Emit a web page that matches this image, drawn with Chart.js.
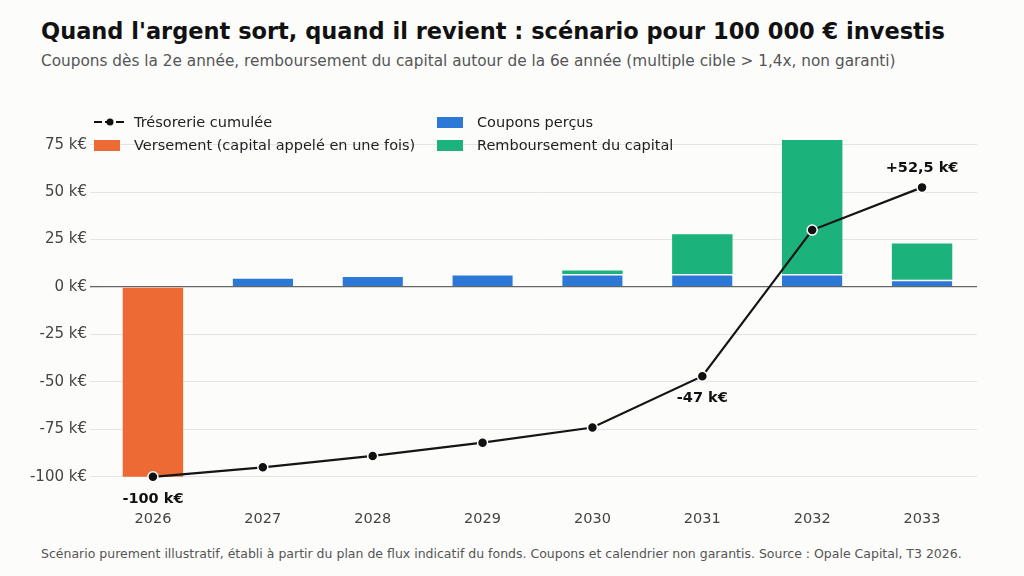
<!DOCTYPE html>
<html><head><meta charset="utf-8">
<script src="https://cdn.jsdelivr.net/npm/chart.js@4"></script>
<style>
body{margin:0;background:#fcfcfb;font-family:"DejaVu Sans",sans-serif;width:1024px;height:576px;overflow:hidden;position:relative}
h1{position:absolute;left:41px;top:18px;margin:0;font-size:22.5px;font-weight:bold;color:#111}
.sub{position:absolute;left:41px;top:52px;font-size:15.3px;color:#555}
.foot{position:absolute;left:41px;top:546px;font-size:12.5px;color:#555}
#wrap{position:absolute;left:0;top:100px;width:1010px;height:431px}
.leg{position:absolute;font-size:14.5px;color:#222;display:flex;align-items:center}
.sw{width:26px;height:11px;margin-right:14px;display:inline-block}
</style></head><body>
<h1>Quand l'argent sort, quand il revient : scénario pour 100 000 € investis</h1>
<div class="sub">Coupons dès la 2e année, remboursement du capital autour de la 6e année (multiple cible &gt; 1,4x, non garanti)</div>
<div id="wrap"><canvas id="c"></canvas></div>
<div class="leg" style="left:94px;top:114px"><svg width="32" height="12" style="margin-right:8px"><line x1="0" y1="6" x2="32" y2="6" stroke="#111" stroke-width="2" stroke-dasharray="8,3"/><circle cx="16" cy="6" r="3.5" fill="#111"/></svg>Trésorerie cumulée</div>
<div class="leg" style="left:94px;top:137px"><span class="sw" style="background:#ee6a35"></span>Versement (capital appelé en une fois)</div>
<div class="leg" style="left:437px;top:114px"><span class="sw" style="background:#2b78d6"></span>Coupons perçus</div>
<div class="leg" style="left:437px;top:137px"><span class="sw" style="background:#1cb27b"></span>Remboursement du capital</div>
<div class="foot">Scénario purement illustratif, établi à partir du plan de flux indicatif du fonds. Coupons et calendrier non garantis. Source : Opale Capital, T3 2026.</div>
<script>
const years=['2026','2027','2028','2029','2030','2031','2032','2033'];
const versement=[-100,null,null,null,null,null,null,null];
const coupons=[null,5.2,6.1,6.8,6.8,6.8,6.8,3.8];
const remboursement=[null,null,null,null,1.9,21,70.6,19.1];
const cumul=[-100,-95,-89,-82,-74,-47,30,52.5];
const labels={0:'-100 k€',5:'-47 k€',7:'+52,5 k€'};
const lbl={id:'lbl',afterDatasetsDraw(ch){const m=ch.getDatasetMeta(0),c=ch.ctx;c.save();c.font='bold 14.5px "DejaVu Sans"';c.fillStyle='#111';c.textAlign='center';
for(const k in labels){const p=m.data[k];const dy=(k==7)?-20:21;c.fillText(labels[k],p.x,p.y+dy+5);}c.restore();}};
new Chart(document.getElementById('c'),{
data:{labels:years,datasets:[
{type:'line',label:'Trésorerie cumulée',data:cumul,borderColor:'#151515',borderWidth:2.2,backgroundColor:'#111',pointRadius:5,pointBorderColor:'#fff',pointBorderWidth:1.5,order:0},
{type:'bar',label:'Versement',data:versement,backgroundColor:'#ee6a35',stack:'s',barPercentage:0.55,categoryPercentage:1,order:1},
{type:'bar',label:'Coupons',data:coupons,backgroundColor:'#2b78d6',borderColor:'#fff',borderWidth:{top:1.5},stack:'s',barPercentage:0.55,categoryPercentage:1,order:1},
{type:'bar',label:'Remb',data:remboursement,backgroundColor:'#1cb27b',stack:'s',barPercentage:0.55,categoryPercentage:1,order:1}]},
options:{responsive:true,maintainAspectRatio:false,animation:false,
layout:{padding:{top:20,left:10,right:33}},
plugins:{legend:{display:false},tooltip:{enabled:false}},
scales:{x:{stacked:true,grid:{display:false},border:{display:false},ticks:{color:'#444',font:{size:14.5,family:'DejaVu Sans'}}},
y:{stacked:true,min:-112,max:88,afterFit(a){a.width=88;},afterBuildTicks(a){a.ticks=[-100,-75,-50,-25,0,25,50,75].map(v=>({value:v}));},
grid:{color:c=>c.tick&&c.tick.value===0?'#666':'#e4e4e4',lineWidth:c=>c.tick&&c.tick.value===0?1.3:1},border:{display:false},
ticks:{color:'#444',font:{size:15,family:'DejaVu Sans'},callback:v=>v+' k€'}}}},
plugins:[lbl]});
</script></body></html>
